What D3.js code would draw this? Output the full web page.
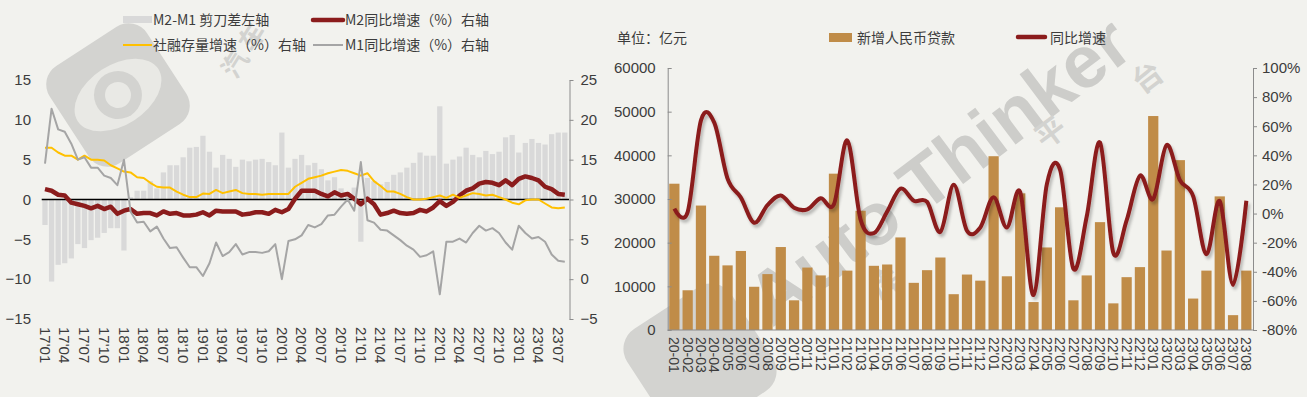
<!DOCTYPE html>
<html><head><meta charset="utf-8">
<script src="https://cdn.jsdelivr.net/npm/d3@7"></script>
<style>
html,body{margin:0;padding:0;background:#f2f2ee;}
svg{display:block;}
</style></head><body>
<svg id="c" width="1307" height="397"></svg>
<script>
// ---------------- Left chart data (2017-01 .. 2023-08) ----------------
const leftCats = [
"17'01","17'02","17'03","17'04","17'05","17'06","17'07","17'08","17'09","17'10","17'11","17'12",
"18'01","18'02","18'03","18'04","18'05","18'06","18'07","18'08","18'09","18'10","18'11","18'12",
"19'01","19'02","19'03","19'04","19'05","19'06","19'07","19'08","19'09","19'10","19'11","19'12",
"20'01","20'02","20'03","20'04","20'05","20'06","20'07","20'08","20'09","20'10","20'11","20'12",
"21'01","21'02","21'03","21'04","21'05","21'06","21'07","21'08","21'09","21'10","21'11","21'12",
"22'01","22'02","22'03","22'04","22'05","22'06","22'07","22'08","22'09","22'10","22'11","22'12",
"23'01","23'02","23'03","23'04","23'05","23'06","23'07","23'08"];
const gapM2M1 = [
-3.2,-10.3,-8.2,-8.0,-7.4,-5.6,-6.1,-5.1,-4.8,-4.2,-3.6,-3.6,
-6.4,0.3,1.1,1.1,2.3,1.4,3.4,4.3,4.3,5.3,6.5,6.6,
8.0,6.0,4.0,5.6,5.1,4.1,5.0,4.8,5.0,5.1,4.7,4.3,
8.4,4.0,5.1,5.6,4.3,4.6,3.8,2.4,2.8,1.4,0.7,1.5,
-5.3,2.7,2.3,1.9,2.2,3.1,3.4,4.0,4.6,5.9,5.5,5.5,
11.7,4.5,5.0,5.4,6.5,5.6,5.3,6.1,5.7,6.0,7.8,8.1,
5.9,7.1,7.6,7.1,6.9,8.2,8.4,8.4];
const m2Yoy = [
11.3,11.1,10.6,10.5,9.6,9.4,9.2,8.9,9.2,8.8,9.1,8.2,
8.6,8.8,8.2,8.3,8.3,8.0,8.5,8.2,8.3,8.0,8.0,8.1,
8.4,8.0,8.6,8.5,8.5,8.5,8.1,8.2,8.4,8.4,8.2,8.7,
8.4,8.8,10.1,11.1,11.1,11.1,10.7,10.4,10.9,10.5,10.7,10.1,
9.4,10.1,9.4,8.1,8.3,8.6,8.3,8.2,8.3,8.7,8.5,9.0,
9.8,9.2,9.7,10.5,11.1,11.4,12.0,12.2,12.1,11.8,12.4,11.8,
12.6,12.9,12.7,12.4,11.6,11.3,10.7,10.6];
const tsfYoy = [
16.5,16.5,15.9,15.5,15.5,15.0,15.5,15.0,15.0,14.9,14.3,13.9,
13.5,13.4,12.8,12.7,12.1,11.6,11.5,11.5,11.0,10.6,10.3,10.3,
10.75,10.7,11.2,10.8,11.0,11.2,10.8,10.7,10.7,10.6,10.7,10.7,
10.7,10.7,11.6,12.1,12.6,12.8,13.0,13.3,13.5,13.7,13.6,13.3,
13.0,13.3,12.3,11.7,11.0,11.0,10.7,10.3,10.0,10.0,10.1,10.3,
10.5,10.2,10.6,10.2,10.5,10.8,10.7,10.5,10.6,10.3,10.0,9.6,
9.4,9.9,10.0,10.0,9.5,9.0,8.9,9.0];
const m1Yoy = [
14.5,21.4,18.8,18.5,17.0,15.0,15.3,14.0,14.0,13.0,12.7,11.8,
15.0,8.5,7.1,7.2,6.0,6.6,5.1,3.9,4.0,2.7,1.5,1.5,
0.4,2.0,4.6,2.9,3.4,4.4,3.1,3.4,3.4,3.3,3.5,4.4,
0.0,4.8,5.0,5.5,6.8,6.5,6.9,8.0,8.1,9.1,10.0,8.6,
14.7,7.4,7.1,6.2,6.1,5.5,4.9,4.2,3.7,2.8,3.0,3.5,
-1.9,4.7,4.7,5.1,4.6,5.8,6.7,6.1,6.4,5.8,4.6,3.7,
6.7,5.8,5.1,5.3,4.7,3.1,2.3,2.2];
const leftAxisTicks = [-15,-10,-5,0,5,10,15];
const rightAxisTicks = [-5,0,5,10,15,20,25];
const leftLegend = ["M2-M1 剪刀差左轴","M2同比增速（%）右轴","社融存量增速（%）右轴","M1同比增速（%）右轴"];

// ---------------- Right chart data (2020-01 .. 2023-08) ----------------
const loanCats = [
"20-01","20-02","20-03","20-04","20'05","20'06","20'07","20'08","20'09","20'10","20'11","20'12",
"21'01","21'02","21'03","21'04","21'05","21'06","21'07","21'08","21'09","21'10","21'11","21'12",
"22'01","22'02","22'03","22'04","22'05","22'06","22'07","22'08","22'09","22'10","22'11","22'12",
"23'01","23'02","23'03","23'04","23'05","23'06","23'07","23'08"];
const newLoans = [
33500,9100,28500,17000,14800,18100,9900,12800,19000,6800,14300,12500,
35800,13600,27300,14700,15000,21200,10800,13700,16600,8200,12700,11300,
39800,12300,31300,6400,18900,28100,6800,12500,24700,6100,12100,14400,
49000,18200,38900,7200,13600,30600,3400,13600];
const loanYoy = [
3.4,1.0,64.0,62.5,24.0,11.0,-6.3,5.8,12.4,4.0,2.9,10.5,
6.5,50.2,-4.2,-13.5,1.4,17.1,8.8,8.0,-12.6,19.8,-11.8,-9.5,
11.2,-9.6,14.7,-56.0,20.0,30.0,-38.0,-2.0,48.8,-27.0,-4.7,26.0,
10.0,47.0,23.0,12.0,-28.0,8.5,-49.0,8.8];
const loanAxisTicks = [0,10000,20000,30000,40000,50000,60000];
const pctAxisTicks = [-80,-60,-40,-20,0,20,40,60,80,100];
const rightLegend = ["单位：亿元","新增人民币贷款","同比增速"];

// ---------------- drawing ----------------
const NUM = "'Liberation Sans Narrow','Arial Narrow','Liberation Sans',sans-serif";
const CJK = "'Noto Sans CJK SC','Noto Sans',sans-serif";
const TXT = "#3c3c3c";
const svg = d3.select("#c");

const defs = svg.append("defs");
const f = defs.append("filter").attr("id","sh").attr("x","-5%").attr("y","-20%").attr("width","110%").attr("height","140%");
f.append("feGaussianBlur").attr("in","SourceAlpha").attr("stdDeviation",1.6).attr("result","b");
f.append("feOffset").attr("in","b").attr("dx",2).attr("dy",3).attr("result","o");
f.append("feComponentTransfer").attr("in","o").attr("result","o2").append("feFuncA").attr("type","linear").attr("slope",0.25);
const fm = f.append("feMerge"); fm.append("feMergeNode").attr("in","o2"); fm.append("feMergeNode").attr("in","SourceGraphic");

// watermark (behind everything)
const wm = svg.append("g").attr("fill","#d3d3d0");
const logo1 = wm.append("g").attr("transform","translate(118,95) rotate(-33)");
logo1.append("rect").attr("x",-58).attr("y",-58).attr("width",116).attr("height",116).attr("rx",22);
logo1.append("ellipse").attr("cx",0).attr("cy",0).attr("rx",48).attr("ry",30).attr("fill","#e9e9e5");
logo1.append("circle").attr("cx",0).attr("cy",0).attr("r",24).attr("fill","#d3d3d0");
logo1.append("circle").attr("cx",0).attr("cy",0).attr("r",13).attr("fill","#e9e9e5");
wm.append("text").attr("transform","translate(236,80) rotate(-58)").attr("font-family",CJK).attr("font-size",26).attr("font-weight","bold").text("汽 车");
const logo2 = wm.append("g").attr("transform","translate(700,360) rotate(-33)");
logo2.append("rect").attr("x",-62).attr("y",-62).attr("width",124).attr("height",124).attr("rx",24);
wm.append("text").attr("transform","translate(772,328) rotate(-37)").attr("font-family","'Liberation Sans',sans-serif")
  .attr("font-size",74).attr("font-weight","bold").attr("fill","#cdcdca").text("Auto Thinker");
wm.append("text").attr("transform","translate(880,300) rotate(-37)").attr("font-family",CJK).attr("font-size",30).attr("font-weight","bold").text("库");
wm.append("text").attr("transform","translate(1045,150) rotate(-37)").attr("font-family",CJK).attr("font-size",30).attr("font-weight","bold").text("平");
wm.append("text").attr("transform","translate(1142,95) rotate(-37)").attr("font-family",CJK).attr("font-size",30).attr("font-weight","bold").text("台");

// ===== Left chart =====
const xL = d3.scaleBand().domain(leftCats).range([41.7,568.1]).paddingInner(0.2).paddingOuter(0.1);
const yL = d3.scaleLinear().domain([-15,15]).range([319,80]);
const yR = d3.scaleLinear().domain([-5,25]).range([319,80]);
const cxL = c => xL(c) + xL.bandwidth()/2;
const gL = svg.append("g");

gL.append("g").selectAll("rect").data(gapM2M1).join("rect")
  .attr("x",(d,i)=>xL(leftCats[i])).attr("width",xL.bandwidth())
  .attr("y",d=>Math.min(yL(d),yL(0))).attr("height",d=>Math.abs(yL(d)-yL(0)))
  .attr("fill","#d9d9d9");
gL.append("line").attr("x1",41.7).attr("x2",569).attr("y1",yL(0)).attr("y2",yL(0)).attr("stroke","#000").attr("stroke-width",1.3);

const lineL = d3.line().x((d,i)=>cxL(leftCats[i])).y(d=>yR(d));
gL.append("path").datum(m2Yoy).attr("d",lineL).attr("fill","none").attr("stroke","#8b1c1c").attr("stroke-width",4.5).attr("stroke-linejoin","round");
gL.append("path").datum(tsfYoy).attr("d",lineL).attr("fill","none").attr("stroke","#ffc000").attr("stroke-width",2).attr("stroke-linejoin","round");
gL.append("path").datum(m1Yoy).attr("d",lineL).attr("fill","none").attr("stroke","#a5a5a5").attr("stroke-width",2).attr("stroke-linejoin","round");

const axL = gL.append("g").attr("transform","translate(36,0)")
  .call(d3.axisLeft(yL).tickValues(leftAxisTicks).tickSize(0).tickPadding(5));
axL.select(".domain").remove();
axL.selectAll("text").attr("font-family",NUM).attr("font-size",15).attr("fill",TXT);
const axR = gL.append("g").attr("transform","translate(569.5,0)")
  .call(d3.axisRight(yR).tickValues(rightAxisTicks).tickSize(4).tickSizeOuter(0).tickPadding(7));
axR.select(".domain").attr("stroke","#8c8c8c");
axR.selectAll("line").attr("stroke","#8c8c8c");
axR.selectAll("text").attr("font-family",NUM).attr("font-size",15).attr("fill",TXT);
const axB = gL.append("g").attr("transform","translate(0,327)")
  .call(d3.axisBottom(xL).tickValues(leftCats.filter((d,i)=>i%3===0)).tickSize(0));
axB.select(".domain").remove();
axB.selectAll("text").attr("x",0).attr("y",0).attr("dy","0.35em").attr("transform","rotate(90)")
  .attr("text-anchor","start").attr("font-family",NUM).attr("font-size",15).attr("fill",TXT);

const lg = svg.append("g").attr("font-family",CJK).attr("font-size",14).attr("fill",TXT);
lg.append("rect").attr("x",123).attr("y",16).attr("width",29).attr("height",7).attr("fill","#d9d9d9");
lg.append("text").attr("x",153).attr("y",20).attr("dy","0.35em").text(leftLegend[0]);
lg.append("line").attr("x1",313).attr("x2",343).attr("y1",20).attr("y2",20).attr("stroke","#8b1c1c").attr("stroke-width",4.5).attr("stroke-linecap","round");
lg.append("text").attr("x",345).attr("y",20).attr("dy","0.35em").text(leftLegend[1]);
lg.append("line").attr("x1",123).attr("x2",152).attr("y1",45).attr("y2",45).attr("stroke","#ffc000").attr("stroke-width",2);
lg.append("text").attr("x",153).attr("y",45).attr("dy","0.35em").text(leftLegend[2]);
lg.append("line").attr("x1",313).attr("x2",343).attr("y1",45).attr("y2",45).attr("stroke","#a5a5a5").attr("stroke-width",2);
lg.append("text").attr("x",345).attr("y",45).attr("dy","0.35em").text(leftLegend[3]);

// ===== Right chart =====
const xB = d3.scaleBand().domain(loanCats).range([667.7,1253]).paddingInner(0.23).paddingOuter(0.115);
const yLoan = d3.scaleLinear().domain([0,60000]).range([330,68]);
const yPct = d3.scaleLinear().domain([-80,100]).range([330,68]);
const gR = svg.append("g");

gR.append("g").selectAll("rect").data(newLoans).join("rect")
  .attr("x",(d,i)=>xB(loanCats[i])).attr("width",xB.bandwidth())
  .attr("y",d=>yLoan(d)).attr("height",d=>yLoan(0)-yLoan(d))
  .attr("fill","#c08c48");

const lineR = d3.line().curve(d3.curveCardinal.tension(0))
  .x((d,i)=>xB(loanCats[i])+xB.bandwidth()/2).y(d=>yPct(d));
gR.append("path").datum(loanYoy).attr("d",lineR).attr("fill","none").attr("stroke","#8b1c1c")
  .attr("stroke-width",4).attr("stroke-linejoin","round").attr("filter","url(#sh)");

const axRL = gR.append("g").attr("transform","translate(667.7,0)")
  .call(d3.axisLeft(yLoan).tickValues(loanAxisTicks).tickSize(-4).tickSizeOuter(0).tickPadding(12).tickFormat(d3.format("d")));
axRL.select(".domain").attr("stroke","#8c8c8c");
axRL.selectAll("line").attr("stroke","#8c8c8c");
axRL.selectAll("text").attr("font-family",NUM).attr("font-size",15).attr("fill",TXT);

const axRR = gR.append("g").attr("transform","translate(1253,0)")
  .call(d3.axisRight(yPct).tickValues(pctAxisTicks).tickSize(4).tickSizeOuter(0).tickPadding(5).tickFormat(d=>d+"%"));
axRR.select(".domain").attr("stroke","#8c8c8c");
axRR.selectAll("line").attr("stroke","#8c8c8c");
axRR.selectAll("text").attr("font-family",NUM).attr("font-size",15).attr("fill",TXT);

gR.append("line").attr("x1",667.7).attr("x2",1253).attr("y1",330).attr("y2",330).attr("stroke","#8c8c8c");
const axRB = gR.append("g").attr("transform","translate(0,337)")
  .call(d3.axisBottom(xB).tickSize(0));
axRB.select(".domain").remove();
axRB.selectAll("text").attr("x",0).attr("y",0).attr("dy","0.35em").attr("transform","rotate(90)")
  .attr("text-anchor","start").attr("font-family",NUM).attr("font-size",14).attr("fill",TXT);

const lg2 = svg.append("g").attr("font-family",CJK).attr("font-size",14).attr("fill",TXT);
lg2.append("text").attr("x",617).attr("y",38).attr("dy","0.35em").text(rightLegend[0]);
lg2.append("rect").attr("x",829).attr("y",33).attr("width",23).attr("height",9).attr("fill","#c08c48");
lg2.append("text").attr("x",857).attr("y",38).attr("dy","0.35em").text(rightLegend[1]);
lg2.append("line").attr("x1",1018).attr("x2",1045).attr("y1",37).attr("y2",37).attr("stroke","#8b1c1c").attr("stroke-width",4.5).attr("stroke-linecap","round");
lg2.append("text").attr("x",1050).attr("y",38).attr("dy","0.35em").text(rightLegend[2]);
</script>
</body></html>
